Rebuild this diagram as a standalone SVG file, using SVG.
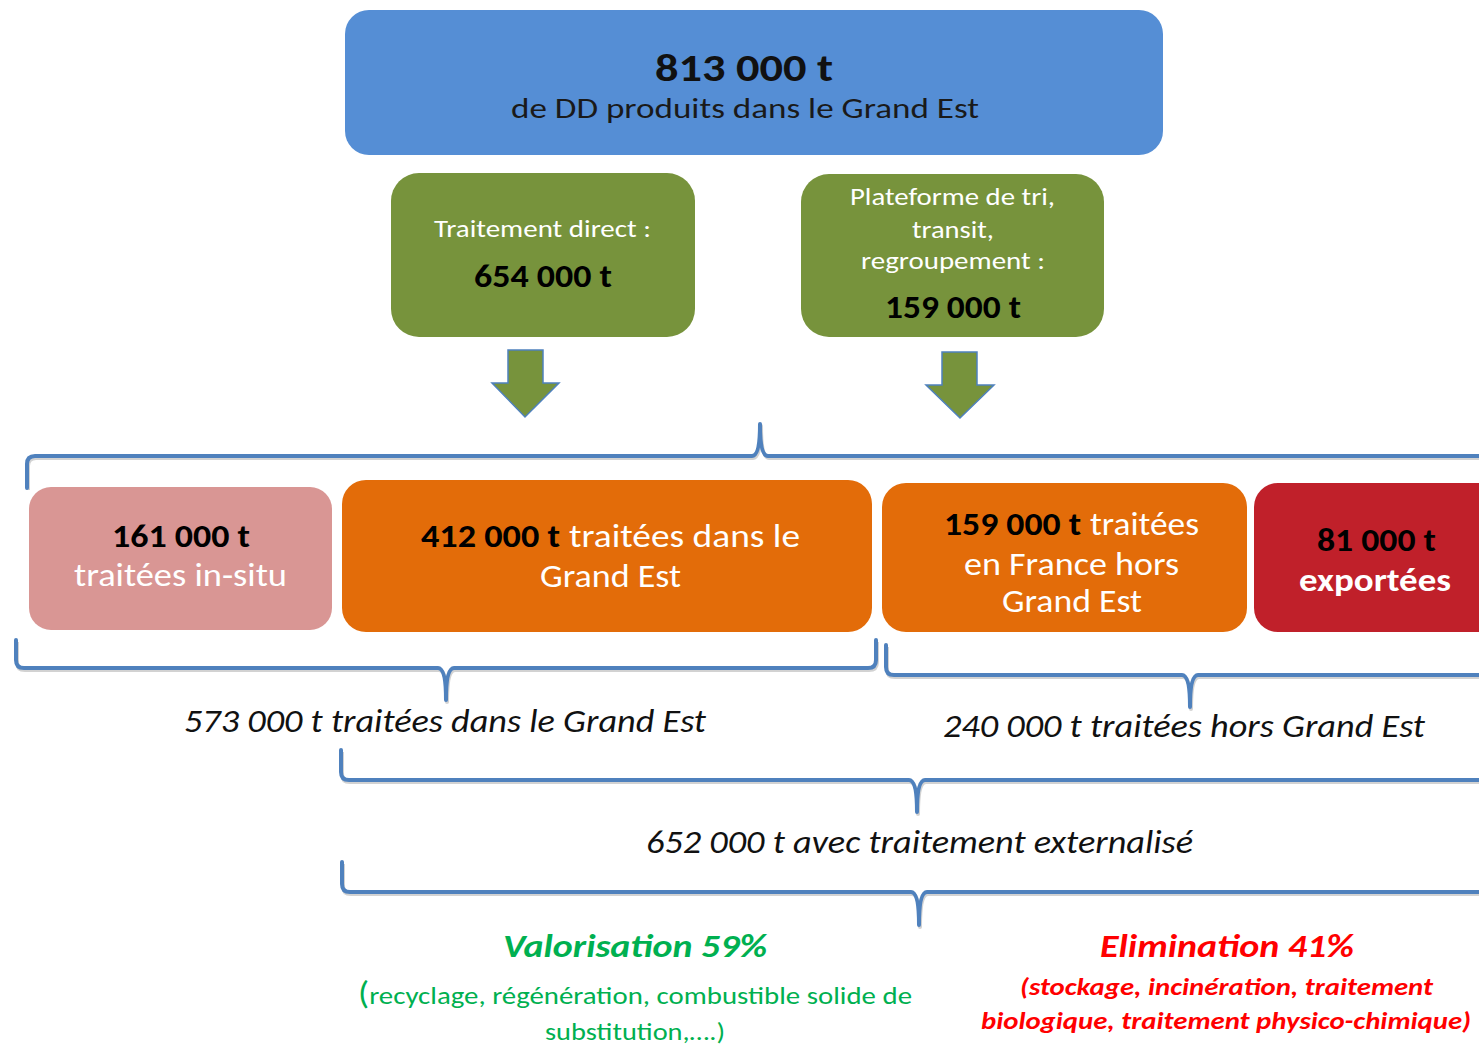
<svg xmlns="http://www.w3.org/2000/svg" width="1479" height="1045" viewBox="0 0 1479 1045">
  <defs>
    <style>
      text { font-family: Carlito, Lato, "Liberation Sans", sans-serif; }
      .b { font-weight: bold; }
      .i { font-style: italic; }
      .w { fill: #ffffff; }
      .k { fill: #000000; }
      .brace { fill: none; stroke: #4F81BD; stroke-width: 4; stroke-linejoin: round; stroke-linecap: round; }
      .shadow { fill: none; stroke: #7f7f7f; stroke-opacity: 0.35; stroke-width: 4; stroke-linejoin: round; }
      .arrow { fill: #77933C; stroke: #4F81BD; stroke-width: 1.5; }
    </style>
  </defs>
  <rect width="1479" height="1045" fill="#ffffff"/>

  <!-- total -->
  <g id="node-total">
    <rect x="345" y="10" width="818" height="145" rx="24" fill="#558ED5"/>
    <text x="655" y="81" class="b" font-size="38" fill="#111" textLength="178" lengthAdjust="spacingAndGlyphs">813 000 t</text>
    <text x="511" y="118" font-size="29" fill="#1a1a1a" textLength="468" lengthAdjust="spacingAndGlyphs">de DD produits dans le Grand Est</text>
  </g>

  <!-- direct treatment -->
  <g id="node-direct">
    <rect x="391" y="173" width="304" height="164" rx="28" fill="#77933C"/>
    <text x="434" y="237" class="w" font-size="25" textLength="217" lengthAdjust="spacingAndGlyphs">Traitement direct :</text>
    <text x="474" y="287" class="b k" font-size="32" textLength="138" lengthAdjust="spacingAndGlyphs">654 000 t</text>
  </g>

  <!-- sorting / transit platform -->
  <g id="node-platform">
    <rect x="801" y="174" width="303" height="163" rx="28" fill="#77933C"/>
    <text x="850" y="205" class="w" font-size="25" textLength="205" lengthAdjust="spacingAndGlyphs">Plateforme de tri,</text>
    <text x="912" y="238" class="w" font-size="25" textLength="82" lengthAdjust="spacingAndGlyphs">transit,</text>
    <text x="861" y="269" class="w" font-size="25" textLength="184" lengthAdjust="spacingAndGlyphs">regroupement :</text>
    <text x="885" y="318" class="b k" font-size="32" textLength="136" lengthAdjust="spacingAndGlyphs">159 000 t</text>
  </g>

  <!-- in-situ -->
  <g id="node-insitu">
    <rect x="29" y="487" width="303" height="143" rx="22" fill="#D99694"/>
    <text x="112" y="547" class="b k" font-size="32" textLength="138" lengthAdjust="spacingAndGlyphs">161 000 t</text>
    <text x="74" y="586" class="w" font-size="32" textLength="213" lengthAdjust="spacingAndGlyphs">traitées in-situ</text>
  </g>

  <!-- treated in Grand Est -->
  <g id="node-grandest">
    <rect x="342" y="480" width="530" height="152" rx="24" fill="#E36C09"/>
    <text x="421" y="547" class="b k" font-size="32" textLength="139" lengthAdjust="spacingAndGlyphs">412 000 t</text>
    <text x="569" y="547" class="w" font-size="32" textLength="231" lengthAdjust="spacingAndGlyphs">traitées  dans le</text>
    <text x="540" y="587" class="w" font-size="32" textLength="141" lengthAdjust="spacingAndGlyphs">Grand Est</text>
  </g>

  <!-- treated in France outside Grand Est -->
  <g id="node-france">
    <rect x="882" y="483" width="365" height="149" rx="24" fill="#E36C09"/>
    <text x="944" y="535" class="b k" font-size="32" textLength="137" lengthAdjust="spacingAndGlyphs">159 000 t</text>
    <text x="1090" y="535" class="w" font-size="32" textLength="109" lengthAdjust="spacingAndGlyphs">traitées</text>
    <text x="964" y="575" class="w" font-size="32" textLength="215" lengthAdjust="spacingAndGlyphs">en France hors</text>
    <text x="1002" y="612" class="w" font-size="32" textLength="140" lengthAdjust="spacingAndGlyphs">Grand Est</text>
  </g>

  <!-- exported -->
  <g id="node-export">
    <rect x="1254" y="483" width="250" height="149" rx="24" fill="#C0202A"/>
    <text x="1317" y="551" class="b k" font-size="32" textLength="119" lengthAdjust="spacingAndGlyphs">81 000 t</text>
    <text x="1299" y="591" class="b w" font-size="32" textLength="152" lengthAdjust="spacingAndGlyphs">exportées</text>
  </g>

  <!-- subtotal and outcome labels -->
  <g id="label-in">
    <text x="184" y="732" class="i" font-size="32" fill="#111" textLength="522" lengthAdjust="spacingAndGlyphs">573 000 t traitées dans le Grand Est</text>
  </g>
  <g id="label-out">
    <text x="943" y="737" class="i" font-size="32" fill="#111" textLength="482" lengthAdjust="spacingAndGlyphs">240 000 t traitées hors Grand Est</text>
  </g>
  <g id="label-external">
    <text x="646" y="853" class="i" font-size="32" fill="#111" textLength="547" lengthAdjust="spacingAndGlyphs">652 000 t avec traitement externalisé</text>
  </g>
  <g id="label-valorisation">
    <text x="503" y="957" class="b i" font-size="32" fill="#00B050" textLength="264" lengthAdjust="spacingAndGlyphs">Valorisation 59%</text>
    <text x="358" y="1004" font-size="25" fill="#00B050" textLength="554" lengthAdjust="spacingAndGlyphs"><tspan font-size="32">(</tspan>recyclage, régénération, combustible solide de</text>
    <text x="545" y="1040" font-size="25" fill="#00B050" textLength="180" lengthAdjust="spacingAndGlyphs">substitution,….)</text>
  </g>
  <g id="label-elimination">
    <text x="1100" y="957" class="b i" font-size="32" fill="#FF0000" textLength="254" lengthAdjust="spacingAndGlyphs">Elimination 41%</text>
    <text x="1020" y="995" class="b i" font-size="24" fill="#FF0000" textLength="413" lengthAdjust="spacingAndGlyphs">(stockage, incinération, traitement</text>
    <text x="981" y="1029" class="b i" font-size="24" fill="#FF0000" textLength="490" lengthAdjust="spacingAndGlyphs">biologique, traitement physico-chimique)</text>
  </g>

  <!-- connectors: flow arrows and grouping braces -->
  <g id="connectors">
    <polygon class="arrow" points="508,350 543,350 543,383 559,383 525,417 492,383 508,383"/>
    <polygon class="arrow" points="942,352 977,352 977,385 994,385 960,418 926,385 942,385"/>

    <path class="shadow" transform="translate(1,2)" d="M27,488 L27,464 Q27,456 35,456 L752,456 Q760,456 760,424 Q760,456 768,456 L1479,456"/>
    <path class="brace" d="M27,488 L27,464 Q27,456 35,456 L752,456 Q760,456 760,424 Q760,456 768,456 L1479,456"/>

    <path class="shadow" transform="translate(1,2)" d="M16,640 L16,660 Q16,668 24,668 L438,668 Q446,668 446,700 Q446,668 454,668 L868,668 Q876,668 876,660 L876,640"/>
    <path class="brace" d="M16,640 L16,660 Q16,668 24,668 L438,668 Q446,668 446,700 Q446,668 454,668 L868,668 Q876,668 876,660 L876,640"/>

    <path class="shadow" transform="translate(1,2)" d="M886,645 L886,667 Q886,675 894,675 L1182,675 Q1190,675 1190,707 Q1190,675 1198,675 L1479,675"/>
    <path class="brace" d="M886,645 L886,667 Q886,675 894,675 L1182,675 Q1190,675 1190,707 Q1190,675 1198,675 L1479,675"/>

    <path class="shadow" transform="translate(1,2)" d="M341,750 L341,772 Q341,780 349,780 L909,780 Q917,780 917,812 Q917,780 925,780 L1479,780"/>
    <path class="brace" d="M341,750 L341,772 Q341,780 349,780 L909,780 Q917,780 917,812 Q917,780 925,780 L1479,780"/>

    <path class="shadow" transform="translate(1,2)" d="M342,862 L342,884 Q342,892 350,892 L911,892 Q919,892 919,925 Q919,892 927,892 L1479,892"/>
    <path class="brace" d="M342,862 L342,884 Q342,892 350,892 L911,892 Q919,892 919,925 Q919,892 927,892 L1479,892"/>
  </g>
</svg>
